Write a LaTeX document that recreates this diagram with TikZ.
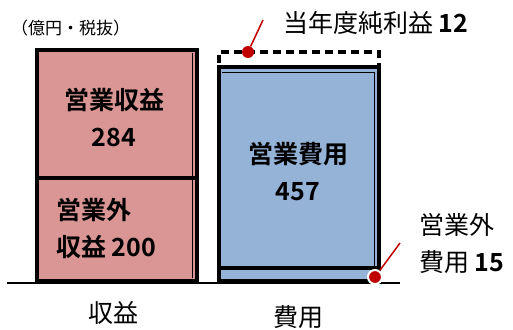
\documentclass[tikz,border=0pt]{standalone}
\usepackage{fontspec}
\setmainfont{Noto Sans CJK JP}[BoldFont={Noto Sans CJK JP Bold}]
\usetikzlibrary{calc}
\definecolor{revpink}{HTML}{DA9694}
\definecolor{costblue}{HTML}{95B3D7}
\definecolor{pinred}{HTML}{C00000}
\tikzset{
  bar/.style={draw,line width=4pt,minimum width=160pt,inner sep=0pt,outer sep=0pt},
  big/.style={font=\fontsize{25}{37}\selectfont,inner sep=0pt},
  bigbold/.style={font=\fontsize{25}{37}\selectfont\bfseries,inner sep=0pt},
  pindot/.style={circle,fill=pinred,minimum size=12pt,inner sep=0pt},
  pinline/.style={pinred,line width=1.5pt}
}
\begin{document}
\begin{tikzpicture}[x=1pt,y=-1pt]
  \useasboundingbox (0,0) rectangle (513,329);
  \coordinate (axisl) at (7,283); \coordinate (axisr) at (400,283);
  \draw[line width=1.2pt] (axisl) -- (axisr);
  \node[bar,fill=revpink,minimum height=128pt] (oprev) at (117,114) {};
  \node[bar,fill=revpink,minimum height=103pt] (nonoprev) at (117,229.5) {};
  \node[bar,dashed,dash pattern=on 8pt off 5pt,minimum height=15pt] (profit) at (299,59.5) {};
  \node[bar,fill=costblue,minimum height=201pt] (opcost) at (299,167.5) {};
  \node[bar,fill=costblue,minimum height=13pt] (nonopcost) at (299,274.5) {};
  \draw[line width=1pt] ($(oprev.north east)+(-5,3)$) -- ($(nonoprev.south east)+(-5,-3)$);
  \draw[line width=1pt] ($(opcost.north west)+(3,5)$) -- ($(opcost.north east)+(-5,5)$) -- ($(opcost.south east)+(-5,-2)$);
  \node[inner sep=0pt,font=\fontsize{17}{17}\selectfont,anchor=west] (unit) at (11,28) {（億円・税抜）};
  \node[bigbold,align=center] (oprevtxt) at (114,118) {営業収益\\284};
  \node[bigbold,align=left,anchor=west] (nonoprevtxt) at (56,228) {営業外\\収益 200};
  \node[bigbold,align=center] (opcosttxt) at (298,172) {営業費用\\457};
  \node[big,anchor=west] (profittxt) at (283,23) {当年度純利益 \textbf{12}};
  \node[big,align=left,anchor=west] (nonopcosttxt) at (419,244) {営業外\\費用 \textbf{15}};
  \node[big] (revcap) at (113,313) {収益};
  \node[big] (costcap) at (298,317) {費用};
  \node[pindot] (pinprofit) at (248,52) {};
  \coordinate (pinprofitend) at (263,20);
  \draw[pinline] (pinprofit) -- (pinprofitend);
  \node[pindot,draw=white,line width=2pt,minimum size=14pt] (pincost) at (375,277) {};
  \coordinate (pincostend) at (400,243);
  \draw[pinline] (pincost) -- (pincostend);
\end{tikzpicture}
\end{document}
